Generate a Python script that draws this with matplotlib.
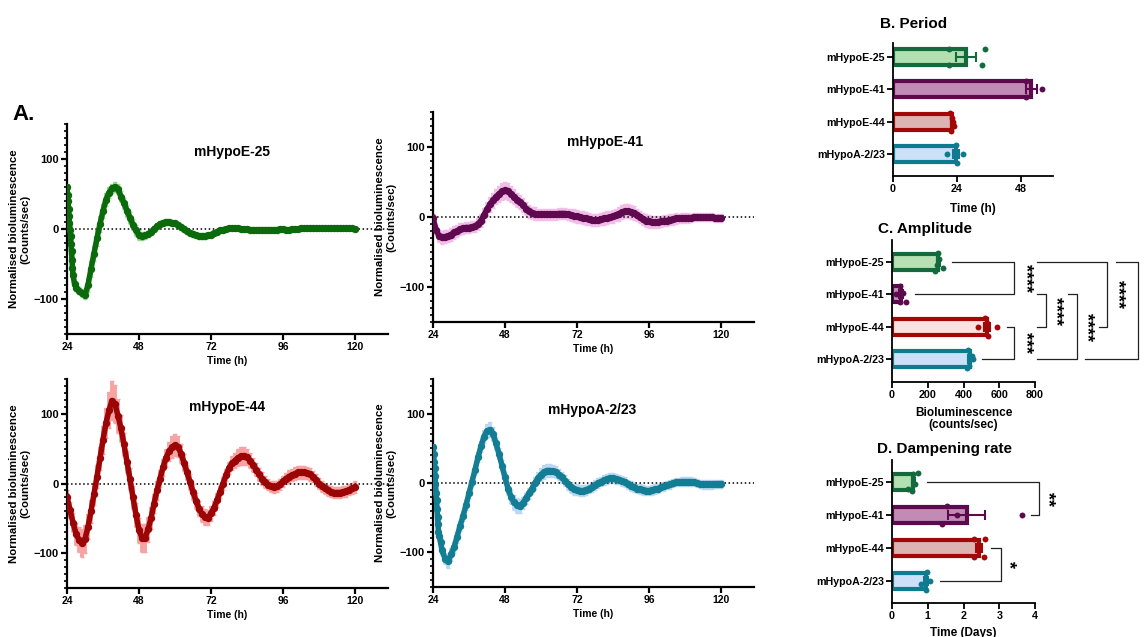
import numpy as np
import matplotlib
matplotlib.use("Agg")
import matplotlib.pyplot as plt
from matplotlib.ticker import MultipleLocator

plt.rcParams['font.family'] = ['Liberation Sans', 'DejaVu Sans']
plt.rcParams['font.weight'] = 'bold'
plt.rcParams['axes.labelweight'] = 'bold'

# ---------------- data: panel A (normalised bioluminescence) ----------------
hours = list(range(24, 121))
early = [24.0, 24.17, 24.33, 24.5, 24.67, 24.83, 25.0, 25.17, 25.33, 25.5,
         25.67, 25.83, 26.0, 26.5]

t_e25 = early + list(range(27, 121))
y_e25 = [60, 49, 40, 29, 18, 8, -1, -10, -21, -32, -44, -56, -66, -78,
         -84, -88, -92, -94, -80, -57, -35, -13, 7, 26,
         42, 52, 58, 60, 57, 46, 37, 26, 16, 6,
         -2, -9, -10, -9, -7, -4, 0, 4, 7, 9,
         10, 10, 9, 8, 6, 3, 0, -3, -5, -7,
         -9, -10, -10, -10, -9, -8, -6, -4, -2, -1,
         0, 1, 1, 1, 1, 0, 0, 0, -1, -1,
         -1, -1, -1, -1, -1, -1, -1, -1, 0, 0,
         -1, -1, 0, 0, 0, 1, 1, 1, 1, 1,
         1, 1, 1, 1, 1, 1, 1, 1, 1, 1,
         1, 1, 1, 0]
e_e25 = [3, 3, 3, 3, 3, 3, 3, 3, 3, 3, 3, 3, 4, 4,
         5, 5, 5, 6, 10, 11, 11, 11, 11, 10,
         9, 8, 7, 7, 7, 8, 8, 9, 9, 8,
         8, 7, 6, 5, 4, 4, 4, 4, 4, 4,
         4, 4, 4, 4, 4, 4, 4, 4, 4, 4,
         4, 4, 4, 4, 4, 4, 3, 3, 3, 3,
         3, 3, 3, 3, 3, 3, 3, 3, 3, 3,
         3, 3, 3, 3, 3, 3, 3, 3, 3, 3,
         3, 3, 3, 3, 3, 3, 3, 3, 3, 3,
         3, 3, 3, 3, 3, 3, 3, 3, 3, 3,
         3, 3, 3, 3]

t_e41 = hours
y_e41 = [-1, -18, -27, -29, -28, -27, -25, -22, -20, -17,
         -16, -15, -15, -14, -13, -10, -5, 3, 11, 18,
         24, 29, 33, 37, 38, 37, 33, 29, 25, 21,
         17, 12, 8, 6, 5, 4, 4, 4, 4, 4,
         4, 4, 5, 5, 5, 4, 3, 2, 1, 0,
         -1, -2, -3, -4, -4, -4, -3, -2, -1, 0,
         1, 3, 5, 7, 8, 8, 7, 6, 3, 0,
         -3, -5, -6, -7, -7, -7, -6, -5, -5, -4,
         -3, -2, -2, -1, -1, -1, -1, 0, 0, 0,
         0, 0, 0, 0, -1, -1, -1]
e_e41 = [6, 7, 8, 9, 9, 9, 9, 9, 8, 8,
         8, 8, 8, 8, 8, 9, 9, 10, 10, 11,
         11, 11, 12, 12, 12, 12, 11, 11, 10, 10,
         10, 9, 9, 9, 9, 8, 8, 8, 8, 8,
         8, 8, 8, 8, 8, 8, 8, 9, 9, 9,
         9, 9, 9, 9, 9, 9, 9, 9, 9, 9,
         9, 9, 10, 10, 10, 10, 10, 10, 9, 9,
         9, 9, 9, 9, 9, 8, 8, 8, 8, 8,
         8, 8, 7, 7, 7, 7, 6, 6, 6, 6,
         6, 6, 6, 6, 6, 6, 6]

t_e44 = hours
y_e44 = [-19, -38, -56, -72, -81, -85, -80, -62, -40, -15,
         10, 36, 63, 87, 105, 119, 114, 97, 79, 56,
         31, 6, -20, -45, -67, -78, -78, -66, -50, -29,
         -10, 7, 23, 37, 46, 52, 55, 53, 43, 30,
         16, 2, -12, -25, -36, -44, -48, -49, -43, -35,
         -24, -12, 0, 12, 22, 29, 33, 37, 39, 40,
         38, 33, 27, 20, 13, 7, 2, -2, -4, -5,
         -4, -1, 3, 7, 10, 12, 14, 16, 16, 16,
         15, 13, 10, 5, 0, -4, -7, -10, -12, -13,
         -13, -13, -12, -11, -9, -7, -5]
e_e44 = [10, 12, 14, 16, 18, 20, 20, 18, 16, 16,
         16, 17, 20, 22, 26, 28, 27, 24, 20, 17,
         16, 16, 16, 17, 18, 20, 20, 18, 16, 14,
         13, 12, 12, 13, 14, 16, 16, 15, 13, 12,
         11, 11, 11, 11, 11, 11, 11, 11, 11, 10,
         10, 9, 9, 9, 9, 10, 11, 12, 13, 13,
         12, 11, 10, 9, 9, 9, 9, 8, 8, 8,
         8, 8, 8, 8, 9, 9, 9, 9, 9, 9,
         9, 9, 8, 8, 8, 8, 8, 8, 8, 8,
         8, 8, 8, 8, 8, 8, 8]

t_a223 = early + list(range(27, 121))
y_a223 = [52, 42, 30, 21, 10, -1, -15, -25, -37, -49, -59, -70, -76, -85,
          -97, -109, -113, -103, -93, -78, -62, -48, -32, -15,
          2, 19, 37, 53, 67, 75, 77, 71, 57, 42,
          25, 8, -8, -20, -28, -32, -33, -29, -22, -15,
          -8, 0, 7, 12, 16, 18, 18, 17, 16, 12,
          8, 3, -2, -6, -9, -10, -11, -11, -10, -8,
          -6, -3, 0, 2, 4, 6, 7, 7, 6, 5,
          3, 1, -2, -4, -6, -8, -9, -10, -11, -11,
          -10, -9, -8, -6, -5, -3, -2, 0, 1, 1,
          2, 2, 2, 2, 1, 0, -1, -2, -2, -2,
          -2, -1, -1, -1]
e_a223 = [4, 4, 4, 4, 4, 4, 4, 4, 4, 4, 4, 5, 5, 5,
          7, 8, 9, 9, 8, 8, 7, 7, 7, 7,
          7, 7, 7, 8, 9, 10, 11, 10, 9, 8,
          8, 8, 9, 10, 11, 11, 10, 9, 8, 8,
          8, 8, 9, 9, 10, 10, 10, 9, 9, 8,
          8, 8, 8, 8, 8, 8, 8, 8, 7, 7,
          7, 7, 7, 7, 7, 7, 7, 7, 7, 7,
          7, 7, 7, 7, 7, 7, 7, 7, 7, 7,
          7, 7, 6, 6, 6, 6, 6, 6, 6, 6,
          6, 6, 6, 6, 6, 6, 6, 6, 6, 6,
          6, 6, 6, 6]

# ---------------- data: panels B-D (individual replicates) ----------------
lines = ['mHypoE-25', 'mHypoE-41', 'mHypoE-44', 'mHypoA-2/23']

period = [[20.9, 20.9, 34.6, 33.5],
          [49.8, 50.0, 55.8],
          [21.5, 22.0, 22.5, 22.8, 21.9],
          [20.2, 23.6, 24.0, 26.4, 23.8]]
amplitude = [[240, 258, 262, 285, 250],
             [25, 42, 45, 60, 78],
             [483, 520, 589, 536, 530],
             [425, 451, 418, 445, 430]]
dampening = [[0.45, 0.55, 0.60, 0.64, 0.74],
             [1.39, 1.53, 1.83, 3.63],
             [2.28, 2.30, 2.60, 2.58],
             [0.82, 0.95, 0.97, 1.06]]

amp_sig = [(0, 1, '****'), (1, 2, '****'), (2, 3, '***'),
           (1, 3, '****'), (0, 2, '****'), (0, 3, '****')]
damp_sig = [(0, 1, '**'), (2, 3, '*')]

# ---------------- styling ----------------
trace_c = ['#0b6a0b', '#5f0a4f', '#9c0505', '#137e93']
band_c = ['#96d792', '#f2bde9', '#f7a3a3', '#bcd7f4']
edge_c = ['#136b3d', '#5c0a4d', '#a30707', '#0e7b8e']
fill_b = ['#b2e0b0', '#c28bb6', '#dcb4b2', '#cce0f7']
fill_c = ['#b6e2b3', '#c78fbd', '#fde0e0', '#cce0f7']
fill_d = ['#b2e0b0', '#c28bb6', '#dcb4b2', '#cce0f7']

W, H = 1145, 637
fig = plt.figure(figsize=(W / 100, H / 100), dpi=100)


def px_axes(l, t, r, b):
    return fig.add_axes([l / W, 1 - b / H, (r - l) / W, (b - t) / H])


def trace_panel(ax, t, y, e, lc, bc, title, tpos):
    ax.errorbar(t, y, yerr=e, fmt='none', ecolor=bc, elinewidth=2.8,
                capsize=1.5, capthick=1, zorder=1)
    ax.axhline(0, color='black', ls=':', lw=1.1, zorder=2)
    ax.plot(t, y, '-', color=lc, lw=4.0, marker='o', ms=4.3, zorder=3)
    ax.set_xlim(24, 131)
    ax.set_ylim(-150, 150)
    ax.set_xticks([24, 48, 72, 96, 120])
    ax.set_yticks([-100, 0, 100])
    ax.yaxis.set_minor_locator(MultipleLocator(10))
    for s in ['top', 'right']:
        ax.spines[s].set_visible(False)
    for s in ['left', 'bottom']:
        ax.spines[s].set_linewidth(1.6)
    ax.tick_params(which='major', length=4, width=1.6, labelsize=7.5, pad=2)
    ax.tick_params(axis='y', which='major', labelsize=8)
    ax.tick_params(which='minor', length=2.5, width=1.2)
    ax.set_xlabel('Time (h)', fontsize=7.5)
    ax.xaxis.set_label_coords(0.5, -0.105)
    ax.set_ylabel('Normalised bioluminescence\n(Counts/sec)', fontsize=8.2,
                  linespacing=1.1)
    ax.yaxis.set_label_coords(-0.115, 0.5)
    ax.text(tpos[0], tpos[1], title, transform=ax.transAxes, ha='center',
            va='center', fontsize=10, fontweight='bold')


axA = [px_axes(67, 124, 388, 334), px_axes(433, 112, 754, 322),
       px_axes(67, 379, 388, 588), px_axes(433, 379, 754, 587)]
series = [(t_e25, y_e25, e_e25), (t_e41, y_e41, e_e41),
          (t_e44, y_e44, e_e44), (t_a223, y_a223, e_a223)]
title_pos = [(0.515, 0.867), (0.536, 0.857), (0.498, 0.866), (0.495, 0.85)]
for k in range(4):
    t, y, e = series[k]
    trace_panel(axA[k], t, y, e, trace_c[k], band_c[k], lines[k], title_pos[k])

fig.text(12 / W, 1 - 115 / H, 'A.', fontsize=16, fontweight='bold',
         ha='left', va='center')


def bar_panel(ax, groups, fills, jit, ylim, xlim, xticks, xlabel, lab_y):
    for i, v in enumerate(groups):
        v = np.array(v, dtype=float)
        m = v.mean()
        s = v.std(ddof=1) / np.sqrt(len(v))
        ax.barh(i, m, height=0.5, color=fills[i], edgecolor=edge_c[i],
                lw=3, zorder=2)
        ax.errorbar(m, i, xerr=s, color=edge_c[i], capsize=3.5, lw=1.5,
                    capthick=1.5, zorder=4)
        ax.scatter(v, i + np.array(jit[i]), s=18, color=edge_c[i],
                   zorder=5, clip_on=False, linewidths=0)
    ax.set_ylim(*ylim)
    ax.set_xlim(*xlim)
    ax.set_xticks(xticks)
    ax.set_yticks(range(len(lines)))
    ax.set_yticklabels(lines)
    for s in ['top', 'right']:
        ax.spines[s].set_visible(False)
    for s in ['left', 'bottom']:
        ax.spines[s].set_linewidth(1.3)
    ax.tick_params(length=4, width=1.3, labelsize=7.7, pad=2)
    ax.set_xlabel(xlabel, fontsize=8.5, linespacing=1.05)
    ax.xaxis.set_label_coords(0.5, lab_y)


def brackets(ax, pairs, layout, fs):
    for (i, j, lab), (xi, xj, xv, xt) in zip(pairs, layout):
        ax.plot([xi, xv, xv, xj], [i, i, j, j], color='#222222', lw=0.9,
                clip_on=False, zorder=6)
        ax.text(xt, (i + j) / 2, lab, rotation=270, ha='center', va='center',
                fontsize=fs, fontweight='bold', clip_on=False)


axB = px_axes(893, 43, 1053, 176)
bar_panel(axB, period, fill_b,
          [[-0.25, 0.25, -0.25, 0.25], [-0.25, 0.25, 0.0],
           [-0.28, -0.12, 0.0, 0.14, 0.28], [0.0, -0.28, 0.28, 0.0, -0.1]],
          (3.68, -0.43), (0, 60), [0, 24, 48], 'Time (h)', -0.2)

axC = px_axes(892, 240, 1035, 382)
bar_panel(axC, amplitude, fill_c,
          [[0.28, -0.28, -0.1, 0.2, 0.1], [0.0, 0.25, -0.25, -0.05, 0.25],
           [0.0, -0.28, 0.0, 0.28, -0.1], [-0.28, 0.0, 0.28, -0.1, 0.2]],
          (3.71, -0.68), (0, 800), [0, 200, 400, 600, 800],
          'Bioluminescence\n(counts/sec)', -0.175)
brackets(axC, amp_sig,
         [(336, 129, 682, 745), (811, 811, 861, 913), (643, 503, 682, 745),
          (985, 811, 1035, 1087), (811, 1158, 1203, 1262),
          (1253, 1080, 1376, 1418)], 13)

axD = px_axes(892, 460, 1035, 603)
bar_panel(axD, dampening, fill_d,
          [[0.2, 0.28, -0.25, 0.05, -0.28], [0.28, -0.28, 0.0, 0.0],
           [-0.28, 0.28, -0.28, 0.28], [0.1, 0.28, -0.28, 0.0]],
          (3.67, -0.67), (0, 4), [0, 1, 2, 3, 4], 'Time (Days)', -0.165)
brackets(axD, damp_sig,
         [(0.98, 3.89, 4.11, 4.36), (2.77, 1.34, 3.05, 3.27)], 13)

fig.text(880 / W, 1 - 24 / H, 'B. Period', fontsize=11, fontweight='bold',
         ha='left', va='center')
fig.text(878 / W, 1 - 229 / H, 'C. Amplitude', fontsize=11, fontweight='bold',
         ha='left', va='center')
fig.text(877 / W, 1 - 449 / H, 'D. Dampening rate', fontsize=11,
         fontweight='bold', ha='left', va='center')

fig.savefig('out.png', dpi=100)
